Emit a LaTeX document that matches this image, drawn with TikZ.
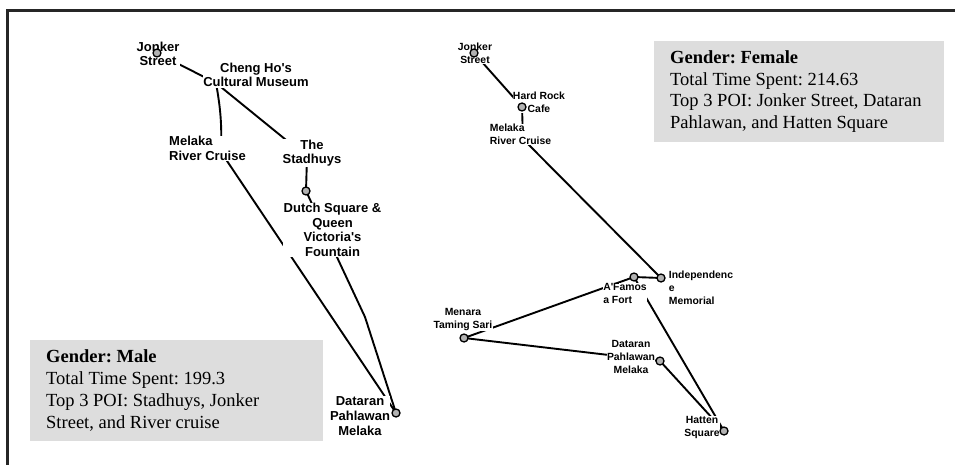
\documentclass[tikz,border=0pt]{standalone}
\usepackage{fontspec}
\setmainfont{Liberation Serif}
\newfontfamily\poifont[BoldFont={Liberation Sans Bold}]{Liberation Sans}
\usepackage{tikz}
\frenchspacing

\begin{document}
\begin{tikzpicture}[x=1pt,y=-1pt,
    edge/.style={line width=1.9pt},
    poi/.style={circle,draw,fill=gray!60,line width=1.3pt,inner sep=0pt,minimum size=8pt},
    biglabel/.style={fill=white,inner sep=0.5pt,align=center,font=\poifont\bfseries\fontsize{13}{14.7}\selectfont},
    smalllabel/.style={fill=white,inner sep=0.5pt,align=center,font=\poifont\bfseries\fontsize{10.4}{12.8}\selectfont},
    infobox/.style={fill=gray!27,inner sep=0pt,minimum width=#1,minimum height=101pt},
    infotext/.style={anchor=west,inner sep=0pt,align=left,font=\fontsize{18.5}{21.7}\selectfont}]
    \useasboundingbox (0,0) rectangle (955,465);
    % frame
    \draw[line width=3pt,black!85] (955,11) -- (7.5,11) -- (7.5,465);

    % info boxes
    \node[infobox=293pt] (malebox) at (176.5,390.5) {};
    \node[infotext] (maletxt) at (46,390.5)
        {\textbf{Gender: Male}\\Total Time Spent: 199.3\\Top 3 POI: Stadhuys, Jonker\\Street, and River cruise};
    \node[infobox=290pt] (femalebox) at (799,91.5) {};
    \node[infotext] (femaletxt) at (670,91.5)
        {\textbf{Gender: Female}\\Total Time Spent: 214.63\\Top 3 POI: Jonker Street, Dataran\\Pahlawan, and Hatten Square};

    % male route
    \coordinate (jonkerM) at (157,53);
    \coordinate (chengho) at (216,83);
    \coordinate (cruiseM) at (221,152);
    \coordinate (stadhuys) at (307,157);
    \coordinate (dutch) at (306,191);
    \coordinate (kinkM) at (365,317);
    \coordinate (dataranM) at (396,413);
    \draw[edge] (jonkerM) -- (chengho);
    \draw[edge] (chengho) to[bend left=6] (cruiseM);
    \draw[edge] (cruiseM) -- (dataranM);
    \draw[edge] (chengho) -- (stadhuys);
    \draw[edge] (stadhuys) -- (dutch);
    \draw[edge] (dutch) -- (kinkM) -- (dataranM);

    \node[biglabel] (jonkerMtxt) at (158,54) {Jonker\\Street};
    \node[biglabel] (chenghotxt) at (256,75) {Cheng Ho's\\Cultural Museum};
    \node[biglabel,align=left] (cruiseMtxt) at (207.5,148.5) {Melaka\\River Cruise};
    \node[biglabel] (stadhuystxt) at (312,153) {The\\Stadhuys};
    \node[biglabel] (dutchtxt) at (332.5,230) {Dutch Square \&\\Queen\\Victoria's\\Fountain};
    \node[biglabel] (dataranMtxt) at (360,416) {Dataran\\Pahlawan\\Melaka};

    \node[poi] (jonkerMpt) at (jonkerM) {};
    \node[poi] (dutchpt) at (dutch) {};
    \node[poi] (dataranMpt) at (dataranM) {};

    % female route
    \coordinate (jonkerF) at (474,53);
    \coordinate (hardrock) at (522,107);
    \coordinate (cruiseF) at (523,139);
    \coordinate (independence) at (661,278);
    \coordinate (afamosa) at (634,277);
    \coordinate (menara) at (464,338);
    \coordinate (dataranF) at (660,361);
    \coordinate (hatten) at (724,431);
    \draw[edge] (jonkerF) -- (hardrock);
    \draw[edge] (hardrock) -- (cruiseF);
    \draw[edge] (cruiseF) -- (independence);
    \draw[edge] (independence) -- (afamosa);
    \draw[edge] (afamosa) -- (menara);
    \draw[edge] (menara) -- (dataranF);
    \draw[edge] (dataranF) -- (hatten);
    \draw[edge] (afamosa) -- (hatten);

    \node[smalllabel] (jonkerFtxt) at (475,53) {Jonker\\Street};
    \node[smalllabel] (hardrocktxt) at (539,102) {Hard Rock\\Cafe};
    \node[smalllabel,align=left] (cruiseFtxt) at (520.5,134.5) {Melaka\\River Cruise};
    \node[smalllabel,align=left] (afamosatxt) at (625,293.5) {A'Famos\\a Fort};
    \node[smalllabel,align=left] (independencetxt) at (701,288) {Independenc\\e\\Memorial};
    \node[smalllabel] (menaratxt) at (463,319.5) {Menara\\Taming Sari};
    \node[smalllabel] (dataranFtxt) at (631,357) {Dataran\\Pahlawan\\Melaka};
    \node[smalllabel] (hattentxt) at (702,427.5) {Hatten\\Square};

    \node[poi] (jonkerFpt) at (jonkerF) {};
    \node[poi] (hardrockpt) at (hardrock) {};
    \node[poi] (independencept) at (independence) {};
    \node[poi] (afamosapt) at (afamosa) {};
    \node[poi] (menarapt) at (menara) {};
    \node[poi] (dataranFpt) at (dataranF) {};
    \node[poi] (hattenpt) at (hatten) {};
\end{tikzpicture}
\end{document}
